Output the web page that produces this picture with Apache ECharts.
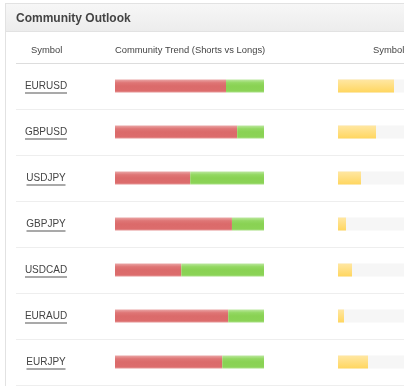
<!DOCTYPE html>
<html><head><meta charset="utf-8">
<script src="https://cdn.jsdelivr.net/npm/echarts@6/dist/echarts.min.js"></script>
<style>html,body{margin:0;padding:0;background:#fff}#c{width:404px;height:386px}</style>
</head><body><div id="c"></div>
<script>
var symbols = ["EURUSD","GBPUSD","USDJPY","GBPJPY","USDCAD","EURAUD","EURJPY"];
var shorts = [74.5, 82, 50.5, 78.5, 44.5, 76, 72];
var longs = [25.5, 18, 49.5, 21.5, 55.5, 24, 28];
var popularity = [56, 38, 23, 8, 14, 6, 30];
var headers = ["Symbol", "Community Trend (Shorts vs Longs)", "Symbol Popularity"];
var titleText = "Community Outlook";

var FONT = "Liberation Sans";
var labelSize = 10;
var cv = document.createElement('canvas').getContext('2d');
cv.font = labelSize + 'px "' + FONT + '"';
var rich = { t: { fontFamily: FONT, fontSize: labelSize, color: '#444', lineHeight: 12 } };
symbols.forEach(function (s, i) {
  rich['u' + i] = { width: Math.round(cv.measureText(s).width), height: 1, lineHeight: 1, backgroundColor: '#555' };
});

function grad(stops) {
  return new echarts.graphic.LinearGradient(0, 0, 0, 1, stops.map(function (c) { return { offset: c[0], color: c[1] }; }));
}
var hdrStyle = { fontFamily: FONT, fontSize: 9.4, fontWeight: 'normal', color: '#444' };
var top0 = 63, rowsH = 322;
var chart = echarts.init(document.getElementById('c'), null, { renderer: 'canvas' });
chart.setOption({
  animation: false,
  title: [
    { text: titleText, left: 16, top: 13, padding: 0, textStyle: { fontFamily: FONT, fontSize: 12, fontWeight: 'bold', color: '#444' } },
    { text: headers[0], left: 31, top: 46, padding: 0, textStyle: hdrStyle },
    { text: headers[1], left: 115, top: 46, padding: 0, textStyle: hdrStyle },
    { text: headers[2], left: 373, top: 46, padding: 0, textStyle: hdrStyle }
  ],
  graphic: [
    { type: 'rect', z: -10, silent: true, shape: { x: 5.5, y: 3.5, width: 410, height: 28 },
      style: { fill: grad([[0, '#f7f7f7'], [1, '#ececec']]), stroke: '#e2e2e2', lineWidth: 1 } },
    { type: 'line', z: -5, silent: true, shape: { x1: 5.5, y1: 3, x2: 5.5, y2: 386 }, style: { stroke: '#e2e2e2', lineWidth: 1 } },
    { type: 'line', z: 5, silent: true, shape: { x1: 16, y1: 63.5, x2: 404, y2: 63.5 }, style: { stroke: '#dddddd', lineWidth: 1 } }
  ],
  grid: [
    { left: 16, right: 0, top: top0, height: rowsH, containLabel: false },
    { left: 115, width: 149, top: top0, height: rowsH },
    { left: 338, width: 66, top: top0, height: rowsH }
  ],
  xAxis: [
    { gridIndex: 0, type: 'value', show: false },
    { gridIndex: 1, type: 'value', min: 0, max: 100, show: false },
    { gridIndex: 2, type: 'value', min: 0, max: 66, show: false }
  ],
  yAxis: [
    { gridIndex: 0, type: 'category', data: symbols, inverse: true,
      axisLine: { show: false }, axisTick: { show: false },
      splitLine: { show: true, lineStyle: { color: '#eeeeee', width: 1 } },
      axisLabel: { inside: true, align: 'center', margin: 30, padding: [2, 0, 0, 0],
        formatter: function (v) { return '{t|' + v + '}\n{u' + symbols.indexOf(v) + '|}'; }, rich: rich } },
    { gridIndex: 1, type: 'category', data: symbols, inverse: true, show: false },
    { gridIndex: 2, type: 'category', data: symbols, inverse: true, show: false }
  ],
  series: [
    { name: 'Shorts', type: 'bar', xAxisIndex: 1, yAxisIndex: 1, stack: 'trend', data: shorts, barWidth: 13,
      itemStyle: { color: grad([[0, '#eaa6a6'], [0.25, '#df7676'], [0.5, '#db6a6a'], [0.85, '#dc6c6c'], [1, '#e59393']]) } },
    { name: 'Longs', type: 'bar', xAxisIndex: 1, yAxisIndex: 1, stack: 'trend', data: longs, barWidth: 13,
      itemStyle: { color: grad([[0, '#bce7a0'], [0.25, '#93d862'], [0.5, '#89d253'], [0.85, '#8bd356'], [1, '#a6de80']]) } },
    { name: 'Popularity', type: 'bar', xAxisIndex: 2, yAxisIndex: 2, data: popularity, barWidth: 13,
      showBackground: true, backgroundStyle: { color: '#f6f6f6' },
      itemStyle: { color: grad([[0, '#ffe7a3'], [1, '#ffd65f']]) } }
  ]
});
</script></body></html>
